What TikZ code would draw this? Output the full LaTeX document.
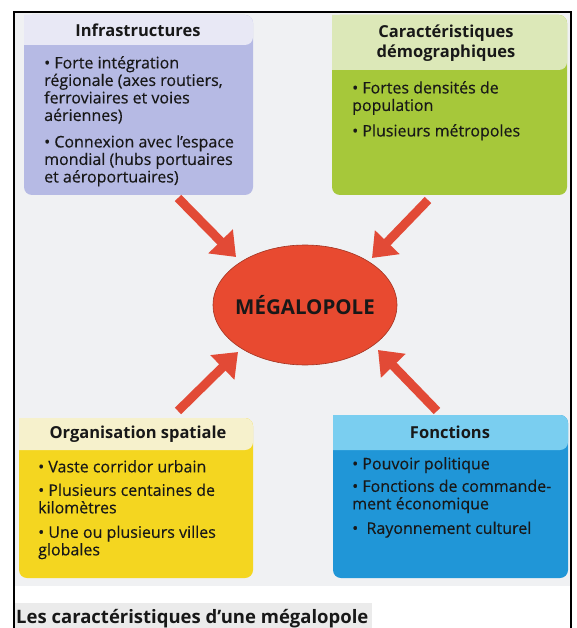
\documentclass[tikz,border=0pt]{standalone}
\usepackage{fontspec}
\setmainfont{Open Sans}
\newfontfamily\bodyfont[FakeBold=0.3]{Open Sans}
\usetikzlibrary{arrows.meta,shapes.geometric}
\definecolor{bgc}{RGB}{240,241,243}
\definecolor{infraH}{RGB}{232,232,245}
\definecolor{infraB}{RGB}{182,186,228}
\definecolor{demoH}{RGB}{220,232,184}
\definecolor{demoB}{RGB}{166,200,58}
\definecolor{orgaH}{RGB}{246,241,204}
\definecolor{orgaB}{RGB}{244,214,32}
\definecolor{foncH}{RGB}{122,206,240}
\definecolor{foncB}{RGB}{32,150,215}
\definecolor{arrowc}{RGB}{226,74,54}
\definecolor{megac}{RGB}{232,74,48}
\definecolor{txt}{RGB}{24,24,24}
\tikzset{
  x=1pt,y=-1pt,
  titletext/.style={anchor=base,inner sep=0pt,text=txt,font=\bfseries\fontsize{16.5}{20}\selectfont},
  bodytext/.style={anchor=north west,inner sep=0pt,align=left,text=txt,font=\bodyfont\fontsize{16}{17.5}\selectfont},
  bigarrow/.style={draw=arrowc,line width=9pt,-{Triangle[length=22pt,width=33pt]}},
}
\begin{document}
\begin{tikzpicture}
\useasboundingbox (0,0) rectangle (576,628);
\fill[white] (0,0) rectangle (576,628);
\fill[bgc] (14,12) rectangle (571,586);
\fill[black!8] (14,603) rectangle (372,628);
\draw[line width=1.6pt] (14,628) -- (14,12) -- (571,12) -- (571,628);
% boxes
\fill[infraB,rounded corners=8pt] (24,15) rectangle (253,195);
\fill[infraH,rounded corners=8pt] (24,15) -- (253,15) -- (253,45) [sharp corners] -- (24,45) -- cycle;
\fill[demoB,rounded corners=8pt] (332,15) rectangle (567,195);
\fill[demoH,rounded corners=8pt] (332,15) -- (567,15) -- (567,70) [sharp corners] -- (332,70) -- cycle;
\fill[orgaB,rounded corners=8pt] (19,418) rectangle (253,578);
\fill[orgaH,rounded corners=8pt] (19,418) -- (253,418) -- (253,450) [sharp corners] -- (19,450) -- cycle;
\fill[foncB,rounded corners=8pt] (333,415) rectangle (568,578);
\fill[foncH,rounded corners=8pt] (333,415) -- (568,415) -- (568,450) [sharp corners] -- (333,450) -- cycle;
% titles
\node[titletext] (infraT) at (138,37) {Infrastructures};
\node[titletext] (demoT) at (446,38) {Caractéristiques};
\node[titletext] (demoT2) at (446,58) {démographiques};
\node[titletext] (orgaT) at (138,438) {Organisation spatiale};
\node[titletext] (foncT) at (450,438) {Fonctions};
% bodies
\node[bodytext] (infra) at (44,56) {• Forte intégration\\régionale (axes routiers,\\ferroviaires et voies\\aériennes)\\[9pt]• Connexion avec l’espace\\mondial (hubs portuaires\\et aéroportuaires)};
\node[bodytext] (demo) at (352,81) {• Fortes densités de\\population\\[8pt]• Plusieurs métropoles};
\node[bodytext] (orga) at (38,460) {• Vaste corridor urbain\\[6pt]• Plusieurs centaines de\\kilomètres\\[7pt]• Une ou plusieurs villes\\globales};
\node[bodytext] (fonc) at (352,457) {• Pouvoir politique\\[5pt]• Fonctions de commande-\\ment économique\\[7pt]•\ \ Rayonnement culturel};
% centre
\node[ellipse,fill=megac,draw=megac!70!black,line width=0.6pt,minimum width=184pt,minimum height=120pt,inner sep=0pt] (mega) at (305,305) {};
\node[inner sep=0pt,font=\bfseries\fontsize{20.5}{24}\selectfont,text=txt] (megaT) at (mega.center) {MÉGALOPOLE};
% arrows
\coordinate (a1) at (178,198);
\coordinate (b1) at (236,257);
\coordinate (a2) at (428,200);
\coordinate (b2) at (372,258);
\coordinate (a3) at (178,411);
\coordinate (b3) at (238,352);
\coordinate (a4) at (437,411);
\coordinate (b4) at (378,350);
\draw[bigarrow] (a1) -- (b1);
\draw[bigarrow] (a2) -- (b2);
\draw[bigarrow] (a3) -- (b3);
\draw[bigarrow] (a4) -- (b4);
% caption
\node[anchor=base west,inner sep=0pt,text=txt,font=\bfseries\fontsize{18.5}{22}\selectfont] (cap) at (16,623) {Les caractéristiques d’une mégalopole};
\end{tikzpicture}
\end{document}
